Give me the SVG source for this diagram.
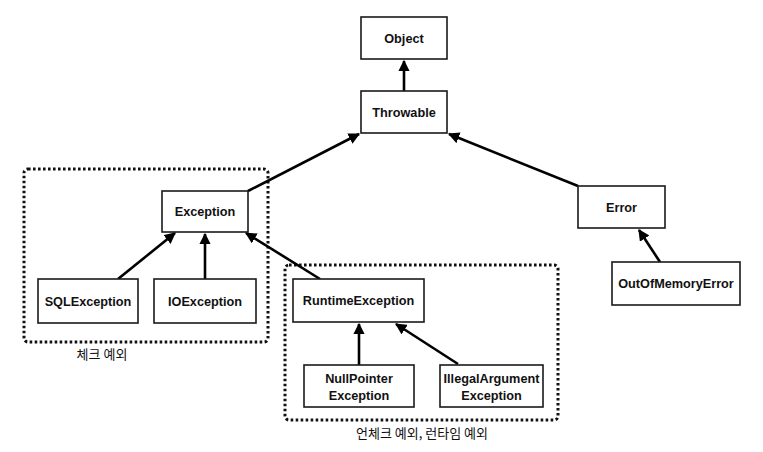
<svg xmlns="http://www.w3.org/2000/svg" width="763" height="452" viewBox="0 0 763 452">
<style>
.box{fill:#fff;stroke:#1a1a1a;stroke-width:1.6}
.lbl{font-family:"Liberation Sans",Arial,sans-serif;font-weight:bold;font-size:12.7px;fill:#111;text-anchor:middle}
.kr{font-family:"Noto Sans CJK KR","Liberation Sans",sans-serif;font-size:13px;fill:#111;text-anchor:middle}
.grp{fill:none;stroke:#111;stroke-width:3;stroke-dasharray:2.6 2.4}
.edge{stroke:#000;stroke-width:2.6;fill:none;marker-end:url(#ah)}
</style>
<defs>
<marker id="ah" viewBox="0 0 10 10" refX="9" refY="5" markerWidth="4.4" markerHeight="4.4" orient="auto" markerUnits="strokeWidth">
<path d="M0,0 L10,5 L0,10 z" fill="#000"/>
</marker>
</defs>
<rect width="763" height="452" fill="#fff"/>
<g id="groups">
<rect class="grp" x="24" y="169" width="244" height="173" rx="4"/>
<text class="kr" x="102" y="358.5">체크 예외</text>
<rect class="grp" x="285" y="265" width="273" height="155" rx="4"/>
<text class="kr" x="422" y="438">언체크 예외, 런타임 예외</text>
</g>
<g id="connectors">
<line class="edge" x1="404" y1="91" x2="404" y2="61"/>
<line class="edge" x1="248" y1="191" x2="359" y2="134"/>
<line class="edge" x1="578" y1="186" x2="449" y2="134"/>
<line class="edge" x1="118" y1="279" x2="175" y2="233"/>
<line class="edge" x1="205" y1="279" x2="205" y2="234"/>
<line class="edge" x1="320" y1="279" x2="246" y2="233"/>
<line class="edge" x1="359" y1="365" x2="359" y2="324"/>
<line class="edge" x1="458" y1="364" x2="396" y2="324"/>
<line class="edge" x1="660" y1="262" x2="639" y2="230"/>
</g>
<g id="Object"><rect class="box" x="361" y="17" width="86" height="42"/><text class="lbl" x="404" y="42.5">Object</text></g>
<g id="Throwable"><rect class="box" x="361" y="91" width="86" height="42"/><text class="lbl" x="404" y="116.5">Throwable</text></g>
<g id="Exception"><rect class="box" x="162" y="191" width="86" height="41"/><text class="lbl" x="205" y="216">Exception</text></g>
<g id="Error"><rect class="box" x="578" y="186" width="87" height="42"/><text class="lbl" x="621.5" y="211.5">Error</text></g>
<g id="SQLException"><rect class="box" x="38" y="279" width="100" height="44"/><text class="lbl" x="88" y="305.5">SQLException</text></g>
<g id="IOException"><rect class="box" x="154" y="279" width="102" height="44"/><text class="lbl" x="205" y="305.5">IOException</text></g>
<g id="RuntimeException"><rect class="box" x="293" y="279" width="131" height="43"/><text class="lbl" x="358.5" y="305">RuntimeException</text></g>
<g id="OutOfMemoryError"><rect class="box" x="612" y="262" width="128" height="43"/><text class="lbl" x="676" y="288">OutOfMemoryError</text></g>
<g id="NullPointerException"><rect class="box" x="304" y="365" width="110" height="42"/><text class="lbl" x="359" y="382.5">NullPointer</text><text class="lbl" x="359" y="399.5">Exception</text></g>
<g id="IllegalArgumentException"><rect class="box" x="440" y="365" width="103" height="42"/><text class="lbl" x="491.5" y="382.5">IllegalArgument</text><text class="lbl" x="491.5" y="399.5">Exception</text></g>
</svg>
